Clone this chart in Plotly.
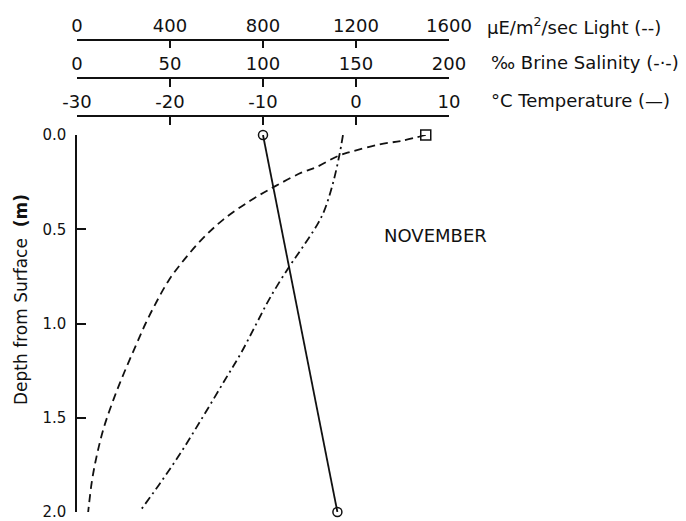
import plotly.graph_objects as go

# ---- data ----
light_depth = [0.00, 0.03, 0.05, 0.09, 0.11, 0.17, 0.20, 0.27, 0.35, 0.45, 0.55, 0.66, 0.77,
               0.89, 1.00, 1.12, 1.26, 1.40, 1.55, 1.69, 1.83, 2.00]
light_value = [1500, 1400, 1300, 1175, 1125, 1030, 965, 855, 743, 628, 540, 462, 395,
               340, 295, 252, 203, 158, 116, 87, 65, 48]

sal_depth = [0.00, 0.11, 0.26, 0.40, 0.47, 0.60, 0.70, 0.86, 1.00, 1.16, 1.30, 1.49, 1.69, 1.85, 2.00]
sal_value = [143, 141, 137.5, 133, 129.5, 121, 114, 104, 96.5, 88, 79.5, 68, 55.5, 44.5, 33.5]

temp_depth = [0.0, 2.0]
temp_value = [-10, -2]

light_ticks = [0, 400, 800, 1200, 1600]
sal_ticks = [0, 50, 100, 150, 200]
temp_ticks = [-30, -20, -10, 0, 10]
depth_ticks = [0.0, 0.5, 1.0, 1.5, 2.0]

FONT = "DejaVu Sans"
INK = "#111111"

W, H = 686, 521
L, R, T, B = 77, 237, 0, 9
PH = H - T - B  # plot area height
PW = W - L - R


def py(ypix):
    return (H - B - ypix) / PH


def px(xpix):
    return (xpix - L) / PW


fig = go.Figure()

fig.add_trace(go.Scatter(
    x=temp_value, y=temp_depth, xaxis="x", yaxis="y", mode="lines+markers",
    line=dict(color=INK, width=1.8),
    marker=dict(symbol="circle-open", size=9, color=INK, line=dict(width=1.5)),
    cliponaxis=False, showlegend=False, hoverinfo="skip"))

fig.add_trace(go.Scatter(
    x=sal_value, y=sal_depth, xaxis="x2", yaxis="y", mode="lines",
    line=dict(color=INK, width=1.8, dash="8px,4px,2px,4px", shape="spline", smoothing=1.0),
    cliponaxis=False, showlegend=False, hoverinfo="skip"))

fig.add_trace(go.Scatter(
    x=light_value, y=light_depth, xaxis="x3", yaxis="y", mode="lines",
    line=dict(color=INK, width=1.8, dash="8px,5px", shape="spline", smoothing=1.0),
    cliponaxis=False, showlegend=False, hoverinfo="skip"))

fig.add_trace(go.Scatter(
    x=light_value[:1], y=light_depth[:1], xaxis="x3", yaxis="y", mode="markers",
    marker=dict(symbol="square-open", size=10, color=INK, line=dict(width=1.5)),
    cliponaxis=False, showlegend=False, hoverinfo="skip"))

common_x = dict(
    anchor="free", side="top", ticks="inside", ticklen=8, tickwidth=1.5, tickcolor=INK,
    showline=True, linecolor=INK, linewidth=1.5, showgrid=False, zeroline=False,
    tickfont=dict(family=FONT, size=18, color=INK), automargin=False, domain=[0, 1],
    ticklabeloverflow="allow",
)

fig.update_layout(
    width=W, height=H, template="none",
    margin=dict(l=L, r=R, t=T, b=B, pad=0),
    paper_bgcolor="white", plot_bgcolor="white",
    showlegend=False,
    xaxis=dict(range=[-30, 10], tickvals=temp_ticks, ticktext=[str(v) for v in temp_ticks],
               position=py(116), **common_x),
    xaxis2=dict(range=[0, 200], tickvals=sal_ticks, ticktext=[str(v) for v in sal_ticks],
                position=py(78), overlaying="x", **common_x),
    xaxis3=dict(range=[0, 1600], tickvals=light_ticks, ticktext=[str(v) for v in light_ticks],
                position=py(39.5), overlaying="x", **common_x),
    yaxis=dict(range=[2.0, 0.0], domain=[0, py(135)], tickvals=depth_ticks,
               ticktext=[f"{v:.1f}" for v in depth_ticks],
               ticks="inside", ticklen=9, tickwidth=1.5, tickcolor=INK,
               showline=True, linecolor=INK, linewidth=1.5, showgrid=False, zeroline=False,
               tickfont=dict(family=FONT, size=15, color=INK), automargin=False,
               ticklabeloverflow="allow", ticklabelstandoff=6,
               anchor="x"),
    annotations=[
        dict(text="\u03bcE/m<sup>2</sup>/sec Light (--)", xref="paper", yref="paper",
             x=px(485), y=py(26), xanchor="left", yanchor="middle", showarrow=False,
             font=dict(family=FONT, size=18, color=INK)),
        dict(text="\u2030 Brine Salinity (-\u00b7-)", xref="paper", yref="paper",
             x=px(489), y=py(62), xanchor="left", yanchor="middle", showarrow=False,
             font=dict(family=FONT, size=18, color=INK)),
        dict(text="\u00b0C Temperature (\u2014)", xref="paper", yref="paper",
             x=px(489), y=py(100), xanchor="left", yanchor="middle", showarrow=False,
             font=dict(family=FONT, size=18, color=INK)),
        dict(text="NOVEMBER", xref="paper", yref="paper",
             x=px(435), y=py(235), xanchor="center", yanchor="middle", showarrow=False,
             font=dict(family=FONT, size=18, color=INK)),
        dict(text="Depth from Surface  <b>(m)</b>", xref="paper", yref="paper",
             x=px(21), y=py(300), xanchor="center", yanchor="middle", textangle=-90,
             showarrow=False, font=dict(family=FONT, size=17, color=INK)),
    ],
)

fig.write_html("out.html")
